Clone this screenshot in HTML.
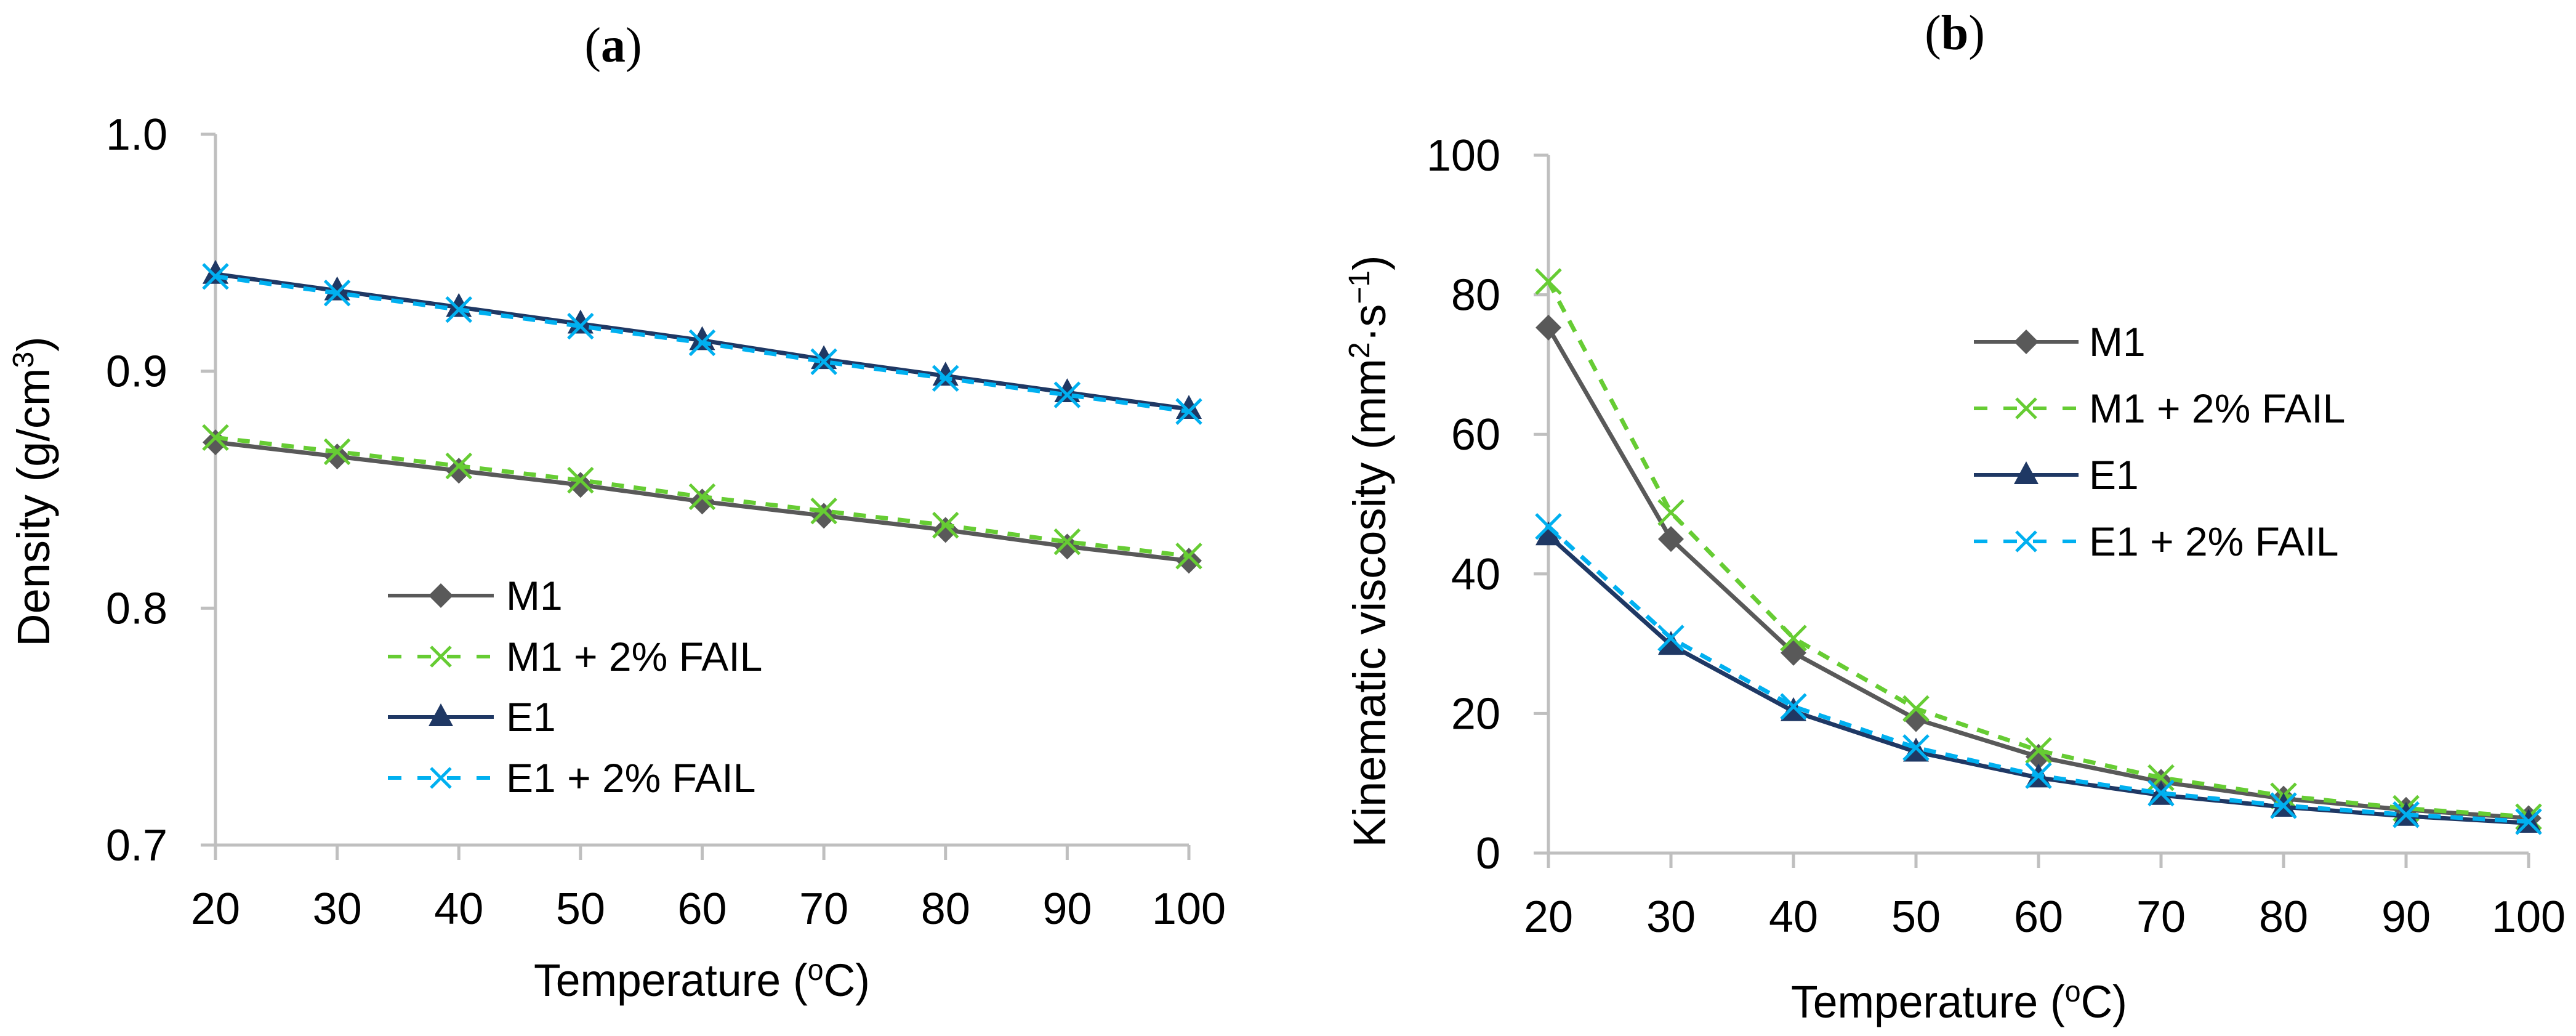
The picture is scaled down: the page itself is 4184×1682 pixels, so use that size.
<!DOCTYPE html>
<html><head><meta charset="utf-8"><style>
html,body{margin:0;padding:0;background:#fff;}
svg{display:block;}
text{font-family:"Liberation Sans",sans-serif;}
</style></head><body>
<svg id="fig" width="4184" height="1682" viewBox="0 0 4184 1682" xmlns="http://www.w3.org/2000/svg">
<rect width="4184" height="1682" fill="#fff"/>
<g id="chartA"></g>
<g id="chartB"></g>
</svg>
<script>
const temps = [20,30,40,50,60,70,80,90,100];
const densM1 = [0.870,0.864,0.858,0.852,0.845,0.839,0.833,0.826,0.820];
const densM1F = [0.872,0.866,0.860,0.854,0.847,0.841,0.835,0.828,0.822];
const densE1 = [0.941,0.934,0.927,0.920,0.913,0.905,0.898,0.891,0.884];
const densE1F = [0.940,0.933,0.926,0.919,0.912,0.904,0.897,0.890,0.883];
const viscM1 = [75.3,45.0,28.7,19.2,13.8,10.2,7.8,6.2,5.0];
const viscM1F = [81.9,48.8,30.8,20.7,14.7,10.8,8.2,6.4,5.2];
const viscE1 = [45.5,29.8,20.3,14.5,10.8,8.3,6.6,5.3,4.3];
const viscE1F = [46.8,30.8,21.0,15.1,11.1,8.6,6.8,5.5,4.5];
const densTicks = [0.7,0.8,0.9,1.0];
const densTickLabels = ["0.7","0.8","0.9","1.0"];
const viscTicks = [0,20,40,60,80,100];
const viscTickLabels = ["0","20","40","60","80","100"];
const seriesNames = ["M1","M1 + 2% FAIL","E1","E1 + 2% FAIL"];

const NS="http://www.w3.org/2000/svg";
function mk(parent,tag,attrs,txt){const e=document.createElementNS(NS,tag);for(const k in attrs)e.setAttribute(k,attrs[k]);if(txt!==undefined)e.textContent=txt;parent.appendChild(e);return e;}

const styles=[
 {c:"#595959",dash:null,m:"diamond"},
 {c:"#66cc33",dash:"20,16",m:"x"},
 {c:"#1f3864",dash:null,m:"tri"},
 {c:"#00b0f0",dash:"20,16",m:"x"}];
const slugs=["m1","m1-fail","e1","e1-fail"];

function marker(g,type,x,y,color,s){
  let e;
  if(type==="diamond"){e=mk(g,"polygon",{points:`${x},${y-s} ${x+s},${y} ${x},${y+s} ${x-s},${y}`,fill:color});}
  else if(type==="tri"){e=mk(g,"polygon",{points:`${x},${y-s*1.1} ${x+s},${y+s*0.75} ${x-s},${y+s*0.75}`,fill:color});}
  else{e=mk(g,"path",{d:`M${x-s},${y-s}L${x+s},${y+s}M${x-s},${y+s}L${x+s},${y-s}`,stroke:color,"stroke-width":5,fill:"none"});}
  return e;
}

function chart(g,cfg){
  const X=v=>cfg.x0+(v-20)/80*(cfg.x1-cfg.x0);
  const Y=v=>cfg.yb+(v-cfg.vmin)/(cfg.vmax-cfg.vmin)*(cfg.yt-cfg.yb);
  const ax=mk(g,"g",{});
  
  
  mk(ax,"line",{x1:cfg.x0,y1:cfg.yt,x2:cfg.x0,y2:cfg.yb,stroke:"#bfbfbf","stroke-width":5});
  mk(ax,"line",{x1:cfg.x0-24,y1:cfg.yb,x2:cfg.x1,y2:cfg.yb,stroke:"#bfbfbf","stroke-width":5});
  cfg.ticks.forEach((t,i)=>{
    mk(ax,"line",{x1:cfg.x0-24,y1:Y(t),x2:cfg.x0,y2:Y(t),stroke:"#bfbfbf","stroke-width":5});
    const tl=mk(ax,"text",{x:cfg.x0-78,y:Y(t)+25,"text-anchor":"end","font-size":72,fill:"#000"},cfg.labels[i]);
    
    
  });
  temps.forEach(t=>{
    mk(ax,"line",{x1:X(t),y1:cfg.yb,x2:X(t),y2:cfg.yb+24,stroke:"#bfbfbf","stroke-width":5});
    const tl=mk(ax,"text",{x:X(t),y:cfg.yb+128,"text-anchor":"middle","font-size":72,fill:"#000"},String(t));
    
    
  });
  const xt=mk(g,"text",{x:cfg.xtx-273,y:cfg.xty,"font-size":74,fill:"#000",textLength:546,lengthAdjust:"spacingAndGlyphs"});
  
  
  xt.innerHTML='Temperature (<tspan font-size="48" dy="-26">o</tspan><tspan dy="26">C)</tspan>';
  const yt=mk(g,"text",{x:0,y:0,"text-anchor":"middle","font-size":74,fill:"#000",transform:`translate(${cfg.ytx},${cfg.yty}) rotate(-90)`});
  
  
  yt.innerHTML=cfg.ytitle;
  const tt=mk(g,"text",{x:cfg.ttx,y:cfg.tty,"text-anchor":"middle","font-size":80,fill:"#000",style:'font-family:"Liberation Serif",serif'});
  
  
  tt.innerHTML='(<tspan font-weight="bold">'+cfg.tlabel+'</tspan>)';
  cfg.data.forEach((arr,si)=>{
    const st=styles[si];
    const sg=mk(g,"g",{});
    
    
    const pts=arr.map((v,i)=>X(temps[i])+","+Y(v)).join(" ");
    const pl=mk(sg,"polyline",{points:pts,fill:"none",stroke:st.c,"stroke-width":7,"stroke-linejoin":"round"});
    if(st.dash)pl.setAttribute("stroke-dasharray",st.dash);
    arr.forEach((v,i)=>{
      const m=marker(sg,st.m,X(temps[i]),Y(v),st.c,st.m==="x"?20:21);
      
      
    });
  });
  const lg=mk(g,"g",{});
  
  
  seriesNames.forEach((n,i)=>{
    const st=styles[i];const y=cfg.ly[i];
    const le=mk(lg,"g",{});
    
    
    const l=mk(le,"line",{x1:cfg.lx0,y1:y,x2:cfg.lx1,y2:y,stroke:st.c,"stroke-width":6});
    if(st.dash)l.setAttribute("stroke-dasharray","22,26");
    marker(le,st.m,(cfg.lx0+cfg.lx1)/2,y,st.c,st.m==="x"?16:20);
    mk(le,"text",{x:cfg.ltx,y:y+23,"font-size":66,fill:"#000"},n);
  });
}

chart(document.getElementById("chartA"),{
  x0:350,x1:1931,yt:218,yb:1372,vmin:0.7,vmax:1.0,ticks:densTicks,labels:densTickLabels,
  data:[densM1,densM1F,densE1,densE1F],
  xtx:1140,xty:1617,ytx:80,yty:798,ytitle:'Density (g/cm<tspan font-size="48" dy="-26">3</tspan><tspan dy="26">)</tspan>',
  ttx:996,tty:100,tlabel:"a",
  lx0:630,lx1:802,ltx:822,ly:[967,1066,1164,1263]});
chart(document.getElementById("chartB"),{
  x0:2515,x1:4107,yt:252,yb:1385,vmin:0,vmax:100,ticks:viscTicks,labels:viscTickLabels,
  data:[viscM1,viscM1F,viscE1,viscE1F],
  xtx:3182,xty:1652,ytx:2250,yty:895,ytitle:'Kinematic viscosity (mm<tspan font-size="48" dy="-26">2</tspan><tspan dy="26">·s</tspan><tspan font-size="48" dy="-26">−1</tspan><tspan dy="26">)</tspan>',
  ttx:3175,tty:80,tlabel:"b",
  lx0:3206,lx1:3376,ltx:3393,ly:[555,663,771,879]});
</script>
</body></html>
